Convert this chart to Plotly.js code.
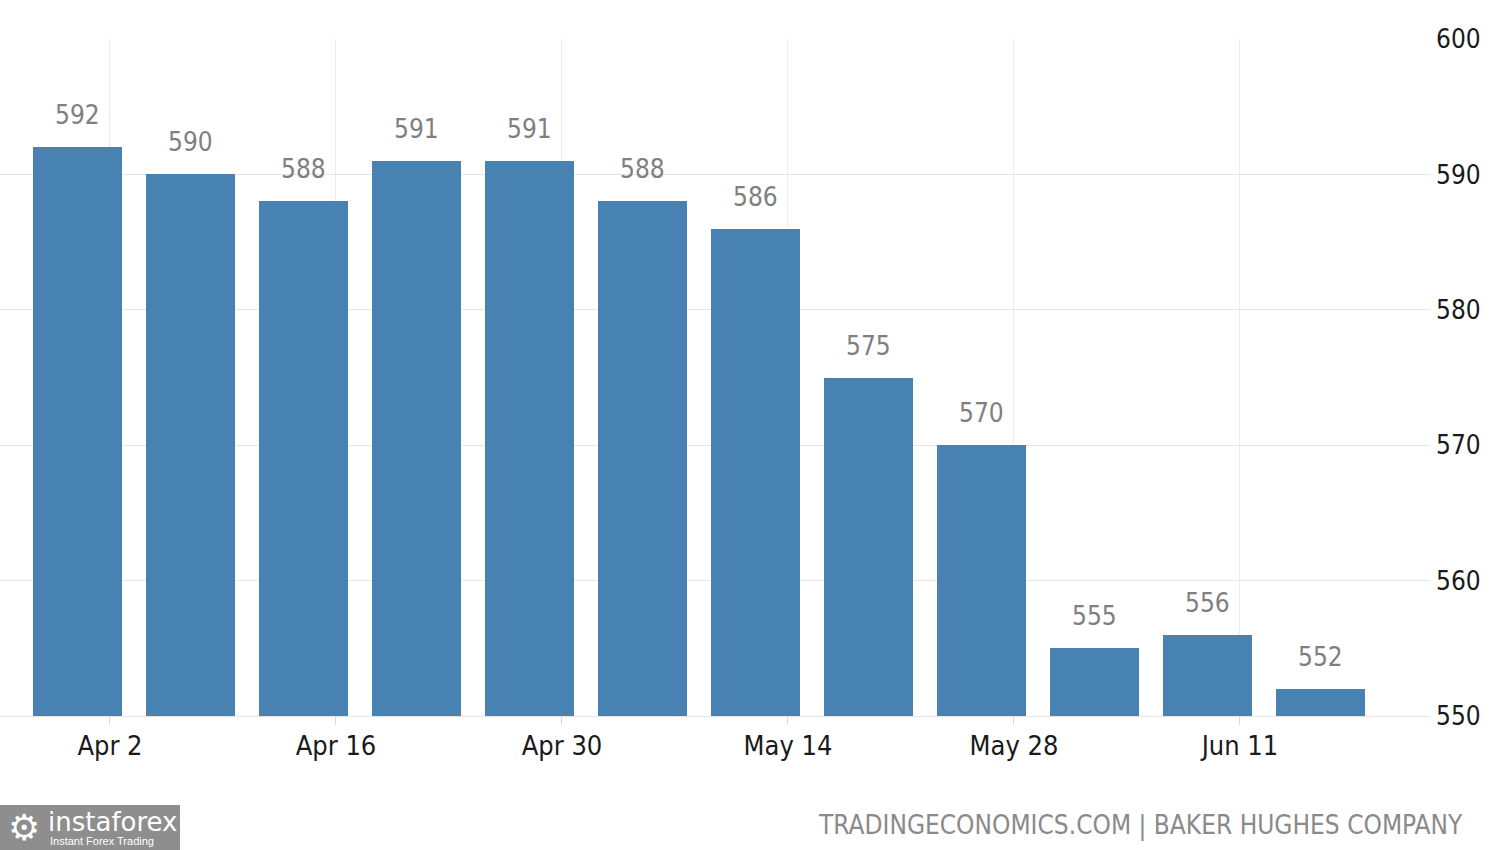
<!DOCTYPE html>
<html>
<head>
<meta charset="utf-8">
<script src="https://cdn.plot.ly/plotly-3.0.1.min.js"></script>
<style>html,body{margin:0;padding:0;background:#fff;}#chart{width:1500px;height:850px;}</style>
</head>
<body>
<div id="chart"></div>
<script>
const weeks = ["2023-03-31","2023-04-07","2023-04-14","2023-04-21","2023-04-28","2023-05-05","2023-05-12","2023-05-19","2023-05-26","2023-06-02","2023-06-09","2023-06-16"];
const rigCount = [592,590,588,591,591,588,586,575,570,555,556,552];
const yTicks = [550,560,570,580,590,600];
const sourceText = "TRADINGECONOMICS.COM | BAKER HUGHES COMPANY";

const FONT = "DejaVu Sans Condensed, DejaVu Sans, sans-serif";
const DAY = 86400000;
const BASE = 550;

const trace = {
  type: "bar",
  x: weeks,
  y: rigCount.map(v => v - BASE),
  base: BASE,
  width: 5.5 * DAY,
  marker: {color: "#4782B3", line: {width: 0}},
  hoverinfo: "x+y"
};

const annotations = weeks.map((d, i) => ({
  x: d, y: rigCount[i], xref: "x", yref: "y",
  text: String(rigCount[i]), showarrow: false,
  yanchor: "bottom", yshift: 15,
  font: {family: FONT, size: 26, color: "#7f7f7f"}
}));

annotations.push({
  xref: "paper", yref: "paper", x: (1465/1430), y: (716-825)/677,
  xanchor: "right", yanchor: "middle", showarrow: false,
  text: sourceText,
  font: {family: FONT, size: 26, color: "#8a8a8a"}
});
annotations.push({
  xref: "paper", yref: "paper", x: 46/1430, y: (716-822)/677,
  xanchor: "left", yanchor: "middle", showarrow: false,
  text: "instaforex",
  font: {family: "DejaVu Sans, sans-serif", size: 26, color: "#ffffff"}
});
annotations.push({
  xref: "paper", yref: "paper", x: 48/1430, y: (716-841)/677,
  xanchor: "left", yanchor: "middle", showarrow: false,
  text: "Instant Forex Trading",
  font: {family: "Liberation Sans, sans-serif", size: 11, color: "#ffffff"}
});
annotations.push({
  xref: "paper", yref: "paper", x: 24/1430, y: (716-827)/677,
  xanchor: "center", yanchor: "middle", showarrow: false,
  text: "⚙",
  font: {family: "DejaVu Sans, sans-serif", size: 36, color: "#ffffff"}
});

const layout = {
  width: 1500, height: 850,
  margin: {l: 0, r: 70, t: 39, b: 134, pad: 0},
  paper_bgcolor: "#ffffff",
  plot_bgcolor: "#ffffff",
  showlegend: false,
  bargap: 0,
  xaxis: {
    type: "date",
    range: ["2023-03-26 04:30", "2023-06-22 18:30"],
    tick0: "2023-04-02", dtick: 14 * DAY,
    tickformat: "%b %-d",
    ticks: "outside", ticklen: 8, tickcolor: "#d9d9d9", tickwidth: 1,
    ticklabelstandoff: -2,
    showgrid: true, gridcolor: "#ededed", gridwidth: 1,
    showline: true, linecolor: "#e6e6e6", linewidth: 1,
    zeroline: false,
    tickfont: {family: FONT, size: 27, color: "#1a1a1a"},
    fixedrange: true
  },
  yaxis: {
    side: "right",
    range: [550, 600],
    tickvals: yTicks,
    ticktext: yTicks.map(String),
    showgrid: true, gridcolor: "#e6e6e6", gridwidth: 1,
    zeroline: false, showline: false,
    ticks: "", ticklabelstandoff: 5,
    tickfont: {family: FONT, size: 26, color: "#1a1a1a"},
    fixedrange: true
  },
  shapes: [{
    type: "rect", xref: "paper", yref: "paper",
    x0: 0, x1: 180/1430, y0: (716-805)/677, y1: (716-850)/677,
    fillcolor: "#8e8e8e", line: {width: 0}, layer: "above"
  }],
  annotations: annotations
};

Plotly.newPlot("chart", [trace], layout, {displayModeBar: false, staticPlot: true});
</script>
</body>
</html>
